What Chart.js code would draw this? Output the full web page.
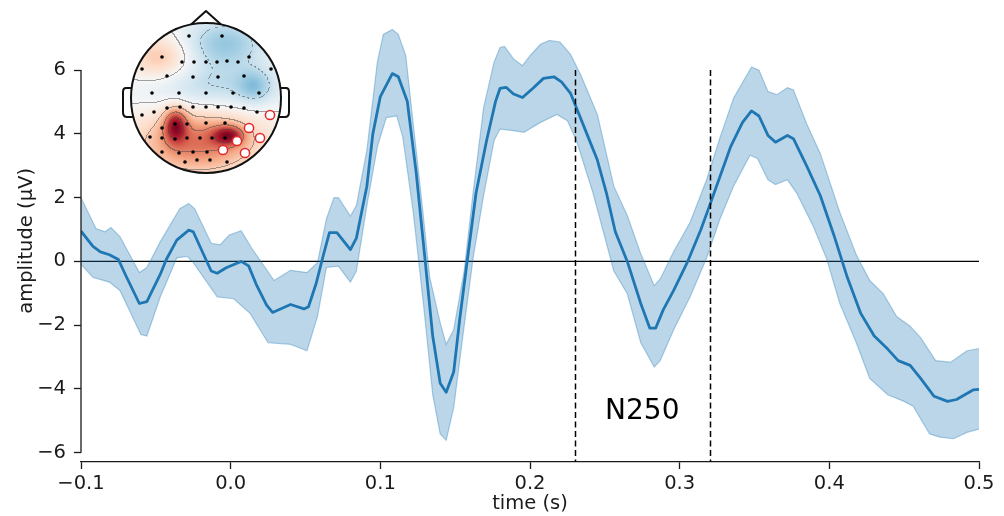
<!DOCTYPE html>
<html>
<head>
<meta charset="utf-8">
<script src="https://cdn.jsdelivr.net/npm/chart.js@4/dist/chart.umd.min.js"></script>
<style>
  html, body { margin: 0; padding: 0; background: #fff; }
  #wrap { width: 1004px; height: 516px; }
</style>
</head>
<body>
<div id="wrap"><canvas id="erp" width="1004" height="516"></canvas></div>
<script>
// ── Data ──
const xTicks = [-0.1, 0.0, 0.1, 0.2, 0.3, 0.4, 0.5];
const yTicks = [-6, -4, -2, 0, 2, 4, 6];
const markerTimes = [0.23, 0.32];
const markerLabel = 'N250';

const meanTimes = [
  -0.100, -0.092, -0.087, -0.081, -0.075, -0.070, -0.061, -0.056, -0.047, -0.043,
  -0.036, -0.028, -0.025, -0.018, -0.013, -0.009, -0.003, 0.007, 0.012, 0.017,
  0.024, 0.028, 0.040, 0.049, 0.052, 0.057, 0.062, 0.066, 0.071, 0.080,
  0.084, 0.091, 0.095, 0.100, 0.108, 0.112, 0.118, 0.124, 0.130, 0.135,
  0.140, 0.144, 0.149, 0.153, 0.158, 0.164, 0.171, 0.177, 0.180, 0.184,
  0.189, 0.195, 0.202, 0.209, 0.216, 0.221, 0.227, 0.231, 0.238, 0.245,
  0.251, 0.257, 0.265, 0.274, 0.280, 0.284, 0.289, 0.296, 0.305, 0.314,
  0.320, 0.327, 0.334, 0.342, 0.348, 0.353, 0.359, 0.364, 0.372, 0.376,
  0.385, 0.394, 0.403, 0.412, 0.421, 0.430, 0.439, 0.446, 0.454, 0.461,
  0.470, 0.479, 0.485, 0.496, 0.500
];
const meanValues = [
  0.95, 0.47, 0.30, 0.21, 0.06, -0.45, -1.32, -1.26, -0.40, 0.06,
  0.67, 0.98, 0.93, 0.21, -0.30, -0.37, -0.20, 0.00, -0.14, -0.71,
  -1.37, -1.60, -1.35, -1.49, -1.42, -0.71, 0.21, 0.90, 0.90, 0.37,
  0.73, 2.36, 4.00, 5.17, 5.89, 5.79, 5.02, 2.77, 0.00, -2.34,
  -3.82, -4.10, -3.47, -1.83, 0.00, 2.16, 3.79, 5.02, 5.43, 5.46,
  5.25, 5.14, 5.43, 5.74, 5.79, 5.63, 5.28, 4.82, 4.00, 3.18,
  2.16, 0.93, 0.00, -1.32, -2.09, -2.09, -1.52, -0.91, -0.04, 0.98,
  1.75, 2.67, 3.59, 4.36, 4.72, 4.56, 3.95, 3.74, 3.95, 3.85,
  2.98, 2.06, 0.83, -0.50, -1.63, -2.34, -2.75, -3.11, -3.26, -3.67,
  -4.23, -4.39, -4.33, -4.03, -4.01
];

const upperTimes = [
  -0.100, -0.090, -0.084, -0.080, -0.074, -0.061, -0.056, -0.047, -0.034, -0.028,
  -0.024, -0.013, -0.007, -0.001, 0.007, 0.014, 0.029, 0.040, 0.051, 0.058,
  0.064, 0.069, 0.072, 0.080, 0.084, 0.091, 0.098, 0.102, 0.108, 0.112,
  0.117, 0.122, 0.128, 0.133, 0.140, 0.144, 0.149, 0.156, 0.162, 0.169,
  0.176, 0.180, 0.183, 0.189, 0.195, 0.200, 0.207, 0.213, 0.220, 0.227,
  0.234, 0.245, 0.256, 0.265, 0.274, 0.283, 0.287, 0.296, 0.307, 0.318,
  0.327, 0.336, 0.348, 0.353, 0.359, 0.365, 0.372, 0.376, 0.385, 0.394,
  0.407, 0.418, 0.427, 0.436, 0.445, 0.454, 0.461, 0.471, 0.481, 0.492,
  0.500
];
const upperValues = [
  2.00, 1.03, 0.93, 1.06, 0.78, -0.35, -0.19, 0.62, 1.65, 1.82,
  1.65, 0.57, 0.52, 0.83, 0.96, 0.42, -0.60, -0.28, -0.35, -0.04,
  1.34, 2.00, 2.00, 1.42, 1.75, 3.49, 6.25, 7.12, 7.27, 7.12,
  6.45, 4.30, 1.75, -0.50, -1.93, -2.60, -2.14, -0.30, 2.16, 4.82,
  6.25, 6.71, 6.74, 6.35, 6.14, 6.45, 6.81, 6.93, 6.88, 6.50,
  5.84, 4.61, 2.36, 1.44, 0.24, -0.76, -0.55, 0.31, 1.23, 2.56,
  3.89, 5.12, 6.10, 6.00, 5.33, 5.23, 5.45, 5.38, 4.30, 3.38,
  1.54, 0.21, -0.60, -1.01, -1.73, -2.03, -2.39, -3.11, -3.16, -2.80,
  -2.73
];

const lowerTimes = [
  -0.100, -0.092, -0.081, -0.074, -0.060, -0.056, -0.047, -0.036, -0.029, -0.025,
  -0.009, 0.002, 0.013, 0.025, 0.040, 0.051, 0.058, 0.064, 0.072, 0.080,
  0.084, 0.091, 0.098, 0.104, 0.111, 0.115, 0.122, 0.129, 0.135, 0.140,
  0.144, 0.149, 0.156, 0.162, 0.169, 0.176, 0.180, 0.189, 0.196, 0.207,
  0.218, 0.225, 0.231, 0.242, 0.256, 0.265, 0.274, 0.283, 0.287, 0.296,
  0.307, 0.318, 0.327, 0.336, 0.347, 0.352, 0.359, 0.364, 0.372, 0.378,
  0.389, 0.398, 0.407, 0.418, 0.427, 0.439, 0.450, 0.456, 0.467, 0.474,
  0.483, 0.492, 0.500
];
const lowerValues = [
  -0.09, -0.50, -0.65, -0.91, -2.29, -2.34, -1.11, 0.11, 0.16, -0.04,
  -1.11, -1.17, -1.63, -2.55, -2.60, -2.80, -1.73, -0.19, -0.15, -0.65,
  -0.30, 1.75, 3.59, 4.51, 4.56, 3.90, 1.54, -1.42, -4.18, -5.41,
  -5.61, -4.59, -2.03, 0.11, 2.06, 3.79, 4.15, 4.10, 4.05, 4.36,
  4.61, 4.41, 3.79, 2.16, -0.30, -1.01, -2.55, -3.31, -3.11, -2.14,
  -1.11, 0.11, 1.34, 2.36, 3.33, 3.23, 2.56, 2.41, 2.56, 2.16,
  1.13, 0.11, -1.32, -2.55, -3.67, -4.18, -4.39, -4.54, -5.41, -5.51,
  -5.56, -5.36, -5.26
];

// topomap inset: sensor offsets (px from head centre) and highlighted sensors
const sensorOffsets = [
  [-17,-62],[16,-62],[-44,-41],[43,-41],[-24,-36],[-12,-36],[0,-36],[11,-36],[21,-37],[32,-36],
  [-64,-29],[65,-29],[-39,-22],[-13,-21],[12,-21],[38,-22],[-54,-5],[-27,-5],[0,-5],[27,-5],
  [53,-5],[-64,17],[-52,14],[-39,10],[-26,9],[-13,9],[0,9],[12,9],[25,9],[38,10],
  [51,14],[-44,30],[-31,26],[-19,26],[0,25],[19,25],[-56,39],[-44,40],[-31,41],[-19,40],
  [-6,40],[6,40],[19,40],[-44,54],[-27,55],[-13,54],[1,54],[-21,64],[-9,62],[4,62],[21,64]
];
const highlightOffsets = [[64,17],[43,30],[54,40],[31,43],[17,52],[39,55]];
// field blobs: dx, dy, sx, sy, amplitude
const topoBlobs = [
  [-31, 26, 8, 12, 0.6],
  [22, 37, 11, 7, 0.55],
  [-8, 44, 42, 22, 0.55],
  [-46, -40, 22, 16, 0.3],
  [18, -55, 30, 18, -0.38],
  [48, -12, 12, 12, -0.25],
  [8, -12, 50, 16, -0.25]
];
const rdbu = ['#053061','#2166ac','#4393c3','#92c5de','#d1e5f0','#f7f7f7','#fddbc7','#f4a582','#d6604d','#b2182b','#67001f'];

const BLUE = '#1f77b4';
const INK  = '#1a1a1a';
const FS   = 19.5;

function pts(ts, vs) { return ts.map((t, i) => ({ x: t, y: vs[i] })); }
function minus(s) { return String(s).replace('-', '\u2212'); }

function hexRgb(h) { return [1, 3, 5].map(i => parseInt(h.slice(i, i + 2), 16)); }
function cmap(v) {
  const p = Math.max(0, Math.min(10, (v + 1) * 5));
  const i = Math.min(9, Math.floor(p)), f = p - i;
  const a = hexRgb(rdbu[i]), b = hexRgb(rdbu[i + 1]);
  return a.map((c, k) => c + (b[k] - c) * f);
}

// ── Topomap image (cached) ──
let topoCanvas = null;
function buildTopo(r) {
  const size = 2 * r + 2;
  const cv = document.createElement('canvas');
  cv.width = size; cv.height = size;
  const c2 = cv.getContext('2d');
  const img = c2.createImageData(size, size);
  const field = new Float32Array(size * size);
  for (let y = 0; y < size; y++) {
    for (let x = 0; x < size; x++) {
      const dx = x - r - 1, dy = y - r - 1;
      let v = 0;
      topoBlobs.forEach(([bx, by, sx, sy, a]) => {
        v += a * Math.exp(-((dx - bx) ** 2) / (2 * sx * sx) - ((dy - by) ** 2) / (2 * sy * sy));
      });
      field[y * size + x] = Math.max(-1, Math.min(1, v));
    }
  }
  const step = 0.25;
  for (let y = 0; y < size; y++) {
    for (let x = 0; x < size; x++) {
      const v = field[y * size + x];
      let [R, G, B] = cmap(v);
      const k = Math.floor(v / step);
      const kr = x < size - 1 ? Math.floor(field[y * size + x + 1] / step) : k;
      const kb = y < size - 1 ? Math.floor(field[(y + 1) * size + x] / step) : k;
      if (k !== kr || k !== kb) {
        const lvl = Math.max(k, kr, kb) * step;
        const dashed = lvl < 0 && ((x + y) % 6) > 2;
        if (!dashed) { R = R * 0.5 + 35; G = G * 0.5 + 35; B = B * 0.5 + 35; }
      }
      const o = (y * size + x) * 4;
      img.data[o] = R; img.data[o + 1] = G; img.data[o + 2] = B; img.data[o + 3] = 255;
    }
  }
  c2.putImageData(img, 0, 0);
  return cv;
}

const topoPlugin = {
  id: 'topo',
  afterDraw(chart) {
    const ctx = chart.ctx;
    const cx = 206, cy = 98, r = 75;
    if (!topoCanvas) topoCanvas = buildTopo(r);
    ctx.save();
    ctx.beginPath();
    ctx.arc(cx, cy, r, 0, Math.PI * 2);
    ctx.clip();
    ctx.drawImage(topoCanvas, cx - r - 1, cy - r - 1);
    ctx.restore();

    ctx.save();
    ctx.strokeStyle = '#111';
    ctx.lineWidth = 2;
    ctx.lineJoin = 'round';
    ctx.beginPath();
    ctx.arc(cx, cy, r, 0, Math.PI * 2);
    ctx.stroke();
    // nose
    ctx.beginPath();
    ctx.moveTo(cx - 15, cy - r + 1.5);
    ctx.lineTo(cx, cy - r - 12);
    ctx.lineTo(cx + 15, cy - r + 1.5);
    ctx.stroke();
    // ears
    [-1, 1].forEach(s => {
      const e0 = cx + s * (r - 1), e1 = cx + s * (r + 8);
      ctx.beginPath();
      ctx.moveTo(e0, cy - 10);
      ctx.lineTo(e1 - s * 3, cy - 10);
      ctx.quadraticCurveTo(e1, cy - 10, e1, cy - 6);
      ctx.lineTo(e1, cy + 14);
      ctx.quadraticCurveTo(e1, cy + 19, e1 - s * 4, cy + 19);
      ctx.lineTo(e0 - s * 2, cy + 19);
      ctx.stroke();
    });
    // sensors
    ctx.fillStyle = '#000';
    sensorOffsets.forEach(([dx, dy]) => {
      ctx.beginPath();
      ctx.arc(cx + dx, cy + dy, 1.8, 0, Math.PI * 2);
      ctx.fill();
    });
    ctx.fillStyle = '#fff';
    ctx.strokeStyle = '#e3282b';
    ctx.lineWidth = 1.5;
    highlightOffsets.forEach(([dx, dy]) => {
      ctx.beginPath();
      ctx.arc(cx + dx, cy + dy, 4.6, 0, Math.PI * 2);
      ctx.fill();
      ctx.stroke();
    });
    ctx.restore();
  }
};

// ── Reference lines, spine and annotation ──
const refPlugin = {
  id: 'refs',
  beforeDatasetsDraw(chart) {
    const { ctx, chartArea: a, scales: { y } } = chart;
    ctx.save();
    ctx.strokeStyle = '#000';
    ctx.lineWidth = 1.3;
    ctx.beginPath();
    ctx.moveTo(a.left, y.getPixelForValue(0));
    ctx.lineTo(a.right, y.getPixelForValue(0));
    ctx.stroke();
    ctx.restore();
  },
  afterDatasetsDraw(chart) {
    const { ctx, chartArea: a, scales: { x, y } } = chart;
    ctx.save();
    // trimmed y spine
    ctx.strokeStyle = INK;
    ctx.lineWidth = 1.3;
    ctx.beginPath();
    ctx.moveTo(a.left, y.getPixelForValue(yTicks[0]));
    ctx.lineTo(a.left, y.getPixelForValue(yTicks[yTicks.length - 1]));
    ctx.stroke();
    // window markers
    ctx.strokeStyle = '#000';
    ctx.lineWidth = 1.5;
    ctx.setLineDash([6, 3.5]);
    markerTimes.forEach(t => {
      const px = Math.round(x.getPixelForValue(t)) + 0.5;
      ctx.beginPath();
      ctx.moveTo(px, y.getPixelForValue(yTicks[yTicks.length - 1]));
      ctx.lineTo(px, a.bottom);
      ctx.stroke();
    });
    ctx.setLineDash([]);
    ctx.fillStyle = '#000';
    ctx.font = '28px "DejaVu Sans"';
    ctx.textAlign = 'center';
    ctx.textBaseline = 'middle';
    const mid = (markerTimes[0] + markerTimes[1]) / 2;
    ctx.fillText(markerLabel, x.getPixelForValue(mid), y.getPixelForValue(-4.7));
    ctx.restore();
  }
};

Chart.defaults.font.family = '"DejaVu Sans", sans-serif';
Chart.defaults.color = INK;

new Chart(document.getElementById('erp'), {
  type: 'line',
  data: {
    datasets: [
      {
        data: pts(lowerTimes, lowerValues),
        borderColor: 'rgba(31,119,180,0.35)',
        borderWidth: 1.2,
        pointRadius: 0,
        fill: false,
      },
      {
        data: pts(upperTimes, upperValues),
        borderColor: 'rgba(31,119,180,0.35)',
        backgroundColor: 'rgba(31,119,180,0.3)',
        borderWidth: 1.2,
        pointRadius: 0,
        fill: '-1',
      },
      {
        data: pts(meanTimes, meanValues),
        borderColor: BLUE,
        borderWidth: 2.8,
        pointRadius: 0,
        fill: false,
        borderJoinStyle: 'round',
      },
    ],
  },
  options: {
    responsive: false,
    animation: false,
    devicePixelRatio: 1,
    layout: { padding: { left: 0, right: 25, top: 10, bottom: 0 } },
    plugins: { legend: { display: false }, tooltip: { enabled: false } },
    scales: {
      x: {
        type: 'linear',
        min: -0.1,
        max: 0.5,
        afterBuildTicks: s => { s.ticks = xTicks.map(v => ({ value: v })); },
        afterFit: s => { s.height = 54; },
        ticks: { font: { size: FS }, color: INK, padding: 3, autoSkip: false, maxRotation: 0,
                 callback: v => minus(v.toFixed(1)) },
        grid: { drawOnChartArea: false, drawTicks: true, tickLength: 7, tickColor: INK, tickWidth: 1.3 },
        border: { display: true, color: INK, width: 1.3 },
        title: { display: true, text: 'time (s)', font: { size: FS }, color: INK, padding: { top: 0, bottom: 0 } },
      },
      y: {
        type: 'linear',
        min: -6.29,
        max: 7.58,
        afterBuildTicks: s => { s.ticks = yTicks.map(v => ({ value: v })); },
        afterFit: s => { s.width = 81; },
        ticks: { font: { size: FS }, color: INK, padding: 8, callback: v => minus(v) },
        grid: { drawOnChartArea: false, drawTicks: true, tickLength: 7, tickColor: INK, tickWidth: 1.3 },
        border: { display: false },
        title: { display: true, text: 'amplitude (µV)', font: { size: FS }, color: INK, padding: { top: 15, bottom: 0 } },
      },
    },
  },
  plugins: [refPlugin, topoPlugin],
});
</script>
</body>
</html>
